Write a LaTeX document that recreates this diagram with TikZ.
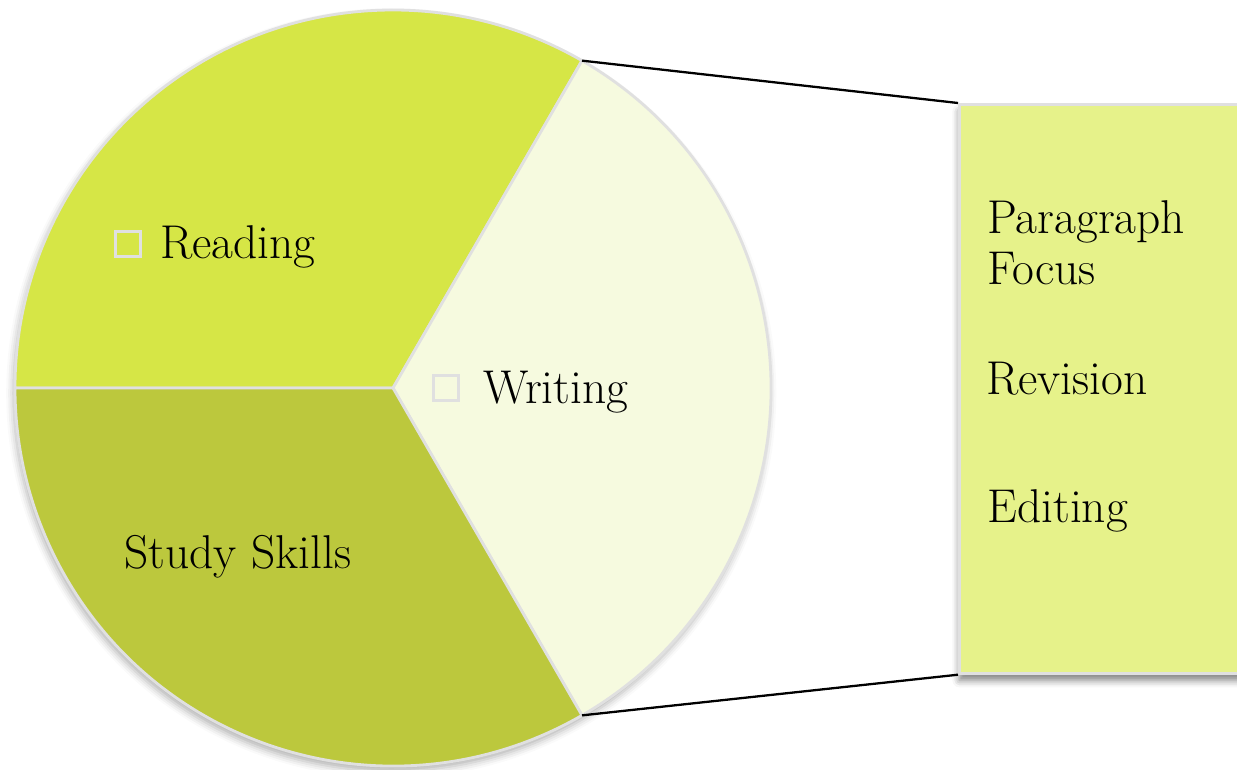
\documentclass[tikz,border=0pt]{standalone}
\usetikzlibrary{shadows.blur}

\definecolor{readcol}{HTML}{D6E646}
\definecolor{writecol}{HTML}{F6FADF}
\definecolor{studycol}{HTML}{BCC83D}
\definecolor{boxcol}{HTML}{E6F28A}
\definecolor{rimcol}{HTML}{E0E0E0}

\tikzset{
  txt/.style={anchor=base west, inner sep=0pt, font=\fontsize{27}{31}\selectfont},
  bullet/.style={draw=rimcol, line width=2pt, minimum size=0.5cm, inner sep=0pt},
  slice/.style={draw=rimcol, line width=1.6pt, line join=round},
}

\begin{document}
\begin{tikzpicture}[x=0.02cm, y=0.02cm]
      \useasboundingbox (0, 0) rectangle (1237, 769);

      % pie
      \coordinate (c) at (393, 381);
      \fill[white, blur shadow={shadow xshift=-1pt, shadow yshift=-3pt, shadow blur radius=4pt, shadow opacity=30}] (c) circle[radius=378];
      \foreach \a/\b/\col in {180/60/readcol, 60/-60/writecol, -60/-180/studycol} {
        \filldraw[slice, fill=\col] (c) -- ++(\a:378) arc[start angle=\a, end angle=\b, radius=378] -- cycle;
      }
      \path (c) ++(60:378) coordinate (top);
      \path (c) ++(-60:378) coordinate (bot);

      \node[bullet] (b_read) at (128, 525) {};
      \node[txt] (read) at (160, 511) {Reading};
      \node[bullet] (b_write) at (446, 381) {};
      \node[txt] (write) at (483, 366) {Writing};
      \node[txt] (study) at (124, 201) {Study Skills};

      % side box
      \node[draw=rimcol, line width=1.6pt, fill=boxcol, anchor=north west,
            minimum width=6.6cm, minimum height=11.38cm,
            blur shadow={shadow xshift=0pt, shadow yshift=-4pt, shadow blur radius=4pt, shadow opacity=50}]
            (zoom) at (958, 666) {};
      \draw[line width=1.3pt] (top) -- (zoom.north west);
      \draw[line width=1.3pt] (bot) -- (zoom.south west);

      \node[txt] (para) at (987, 536) {Paragraph};
      \node[txt] (focus) at (987, 485) {Focus};
      \node[txt] (rev) at (986, 375) {Revision};
      \node[txt] (edit) at (987, 247) {Editing};
\end{tikzpicture}
\end{document}
